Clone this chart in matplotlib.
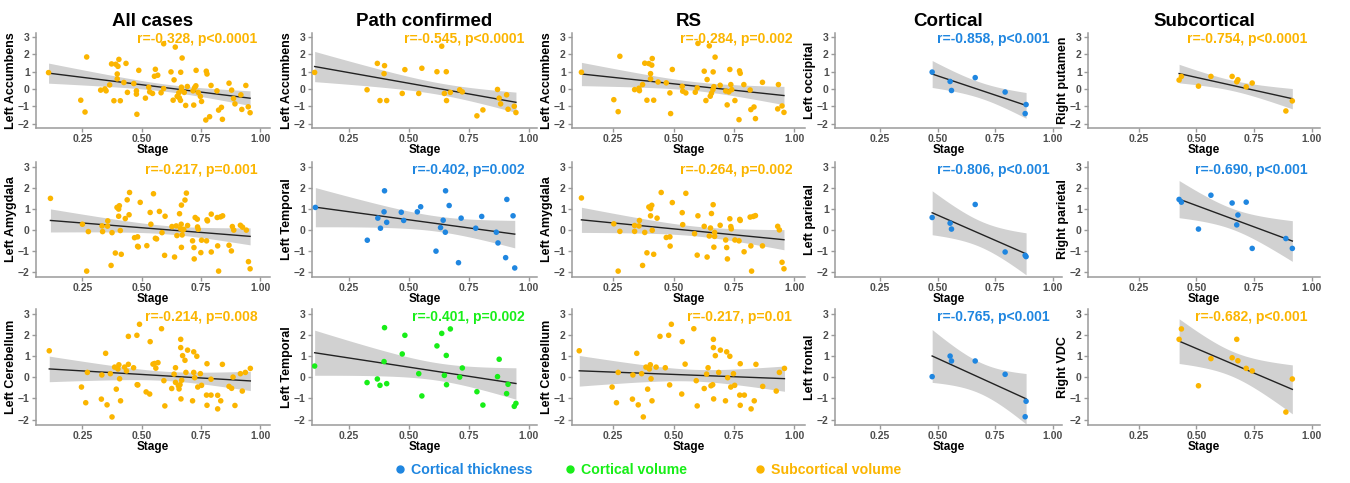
import numpy as np
import matplotlib
matplotlib.use("Agg")
import matplotlib.pyplot as plt
from matplotlib.lines import Line2D

plt.rcParams['font.family'] = ['Liberation Sans', 'DejaVu Sans']

BLUE = '#1f86e0'
GREEN = '#18ee18'
ORANGE = '#fbb500'

col_titles = ['All cases', 'Path confirmed', 'RS', 'Cortical', 'Subcortical']
legend_labels = ['Cortical thickness', 'Cortical volume', 'Subcortical volume']

# ---- data (stage, z-score) ----
x_all_acc = [0.107, 0.268, 0.243, 0.261, 0.327, 0.345, 0.35, 0.365, 0.373, 0.383, 0.391, 0.397, 0.397, 0.40,
             0.404, 0.41, 0.425, 0.434, 0.44, 0.467, 0.478, 0.478, 0.48, 0.488, 0.516, 0.53, 0.534, 0.546,
             0.554, 0.558, 0.568, 0.582, 0.593, 0.593, 0.624, 0.633, 0.637, 0.642, 0.65, 0.657, 0.659, 0.664,
             0.665, 0.668, 0.668, 0.671, 0.68, 0.686, 0.693, 0.717, 0.72, 0.724, 0.729, 0.73, 0.739, 0.748,
             0.753, 0.771, 0.773, 0.776, 0.787, 0.793, 0.818, 0.825, 0.837, 0.841, 0.869, 0.88, 0.888, 0.894,
             0.919, 0.923, 0.94, 0.95, 0.958]
y_all_acc = [0.94, 1.84, -0.65, -1.33, -0.07, 0.0, -0.11, 0.23, 1.44, -0.68, 1.42, 0.58, 0.86, 1.3,
             1.7, -0.68, 0.37, 1.47, -0.2, 0.31, -0.11, -0.3, -1.46, 1.07, -0.53, 0.1, -0.17, -0.26,
             0.73, 1.13, 0.79, -0.22, 2.6, 0.02, 0.98, -0.65, 0.52, 2.41, -0.43, -0.22, -0.51, -0.66,
             0.96, -0.05, 0.1, 1.78, -0.2, -0.95, 0.14, -0.11, -0.93, 0.08, 0.18, 1.07, -0.2, -0.43,
             -0.72, -1.79, 1.02, 0.86, -1.6, 0.2, -0.11, -1.22, -1.06, -1.75, 0.33, -0.07, -0.55, -0.86,
             -0.34, -1.18, 0.2, -1.03, -1.37]

x_all_amy = [0.115, 0.25, 0.268, 0.275, 0.333, 0.335, 0.356, 0.357, 0.375, 0.371, 0.389, 0.396, 0.403, 0.406,
             0.403, 0.41, 0.414, 0.431, 0.439, 0.447, 0.449, 0.47, 0.483, 0.483, 0.486, 0.494, 0.522, 0.536,
             0.539, 0.55, 0.558, 0.563, 0.575, 0.586, 0.597, 0.599, 0.628, 0.639, 0.646, 0.649, 0.66, 0.664,
             0.667, 0.668, 0.668, 0.671, 0.674, 0.678, 0.683, 0.689, 0.694, 0.715, 0.721, 0.722, 0.726, 0.735,
             0.739, 0.736, 0.75, 0.753, 0.774, 0.778, 0.776, 0.794, 0.794, 0.819, 0.821, 0.825, 0.833, 0.842,
             0.869, 0.879, 0.883, 0.889, 0.917, 0.926, 0.942, 0.951, 0.958]
y_all_amy = [1.49, 0.26, -1.97, -0.09, 0.18, -0.09, 0.17, 0.42, -0.14, -1.7, -1.11, 1.06, 0.98, 1.14,
             0.64, -0.04, -1.17, 0.53, 1.42, 0.71, 1.77, -0.38, -0.34, -0.79, -0.82, 1.3, -0.76, 0.82,
             0.26, 1.71, -0.41, -0.44, 0.87, -0.14, -1.22, 0.64, 0.15, -1.3, 0.18, -0.28, 0.76, 0.05,
             0.26, 1.17, -0.84, -0.25, -0.02, 0.02, 1.41, 1.74, 0.2, -0.53, -0.85, -1.39, 0.58, 0.5,
             0.02, 0.13, -1.09, -0.5, -0.53, 0.42, 0.47, 0.74, -1.06, 0.58, -0.77, -1.97, 0.61, 0.66,
             -0.74, -1.01, 0.15, -0.02, 0.21, 0.12, -0.02, -1.52, -1.86]

x_all_cer = [0.11, 0.246, 0.264, 0.271, 0.33, 0.332, 0.348, 0.354, 0.368, 0.375, 0.386, 0.393, 0.40, 0.404,
             0.407, 0.411, 0.428, 0.436, 0.444, 0.444, 0.466, 0.48, 0.481, 0.484, 0.491, 0.519, 0.534, 0.536,
             0.548, 0.555, 0.56, 0.569, 0.584, 0.594, 0.598, 0.627, 0.637, 0.643, 0.643, 0.655, 0.658, 0.662,
             0.665, 0.665, 0.666, 0.669, 0.673, 0.683, 0.687, 0.694, 0.715, 0.72, 0.72, 0.724, 0.733, 0.737,
             0.748, 0.753, 0.774, 0.776, 0.776, 0.793, 0.793, 0.821, 0.821, 0.834, 0.841, 0.869, 0.88, 0.886,
             0.894, 0.917, 0.925, 0.938, 0.959]
y_all_cer = [1.25, -0.46, -1.2, 0.23, -1.03, 0.11, 1.13, -1.3, 0.17, -1.87, 0.48, -0.56, 0.39, 0.59,
             -0.07, -1.11, 0.48, 0.3, 1.93, 0.61, 0.45, 1.98, -0.35, -0.36, 2.5, -0.69, -0.79, 1.68,
             0.62, 0.65, 0.43, 0.69, 2.29, -0.16, -1.35, -0.53, 0.15, 0.45, -0.24, -0.4, -0.55, -0.35,
             1.79, 1.4, -1.02, -0.14, 1.02, 0.8, 0.23, 1.28, -1.11, 1.2, 0.23, -0.02, 0.99, -0.46,
             0.17, -0.38, -0.84, 0.64, -1.32, -0.09, -0.84, -1.49, -0.85, -1.11, 0.61, -0.43, -0.52, 0.01,
             -1.33, 0.17, -0.65, 0.23, 0.42]

x_path_acc = [0.106, 0.325, 0.368, 0.379, 0.396, 0.398, 0.407, 0.472, 0.483, 0.541, 0.554, 0.617, 0.637, 0.648,
              0.656, 0.657, 0.673, 0.712, 0.723, 0.784, 0.809, 0.87, 0.877, 0.883, 0.908, 0.914, 0.94, 0.947]
y_path_acc = [0.95, -0.05, 1.47, -0.67, 0.88, 1.34, -0.67, -0.26, 1.11, -0.26, 1.19, 0.99, 2.46, -0.26,
              0.99, -0.67, -0.2, -0.05, -0.17, -1.55, -1.21, -0.03, -0.53, -0.86, -0.34, -1.17, -1.0, -1.36]

x_path_tmp = [0.109, 0.326, 0.37, 0.381, 0.396, 0.398, 0.407, 0.468, 0.478, 0.535, 0.549, 0.613, 0.632, 0.643,
              0.652, 0.653, 0.668, 0.707, 0.718, 0.779, 0.804, 0.865, 0.872, 0.904, 0.909, 0.935, 0.942]
y_path_tmp = [1.06, -0.5, 0.55, 0.07, 0.85, 1.85, 0.35, 0.83, 0.44, 0.85, 1.09, -1.02, 0.1, 0.45,
              -0.12, 1.85, 1.15, -1.57, 0.55, 0.07, 0.63, -0.12, -0.63, -1.33, 1.44, 0.66, -1.82]

x_path_vol = [0.106, 0.325, 0.368, 0.379, 0.396, 0.398, 0.407, 0.472, 0.483, 0.541, 0.554, 0.617, 0.637,
              0.648, 0.656, 0.657, 0.673, 0.712, 0.723, 0.784, 0.809, 0.87, 0.877, 0.908, 0.914, 0.94, 0.947]
y_path_vol = [0.53, -0.25, -0.08, -0.38, 0.74, 2.34, -0.3, 1.1, 1.98, 0.17, -0.88, 1.48, 2.07,
              0.09, 1.03, -0.35, 2.28, 0.01, 0.44, -0.68, -1.31, 0.03, 0.85, -0.77, -0.33, -1.37, -1.23]

x_rs_acc = [0.119, 0.253, 0.271, 0.278, 0.339, 0.357, 0.359, 0.372, 0.381, 0.39, 0.398, 0.405, 0.405, 0.41,
            0.412, 0.418, 0.436, 0.47, 0.485, 0.488, 0.495, 0.536, 0.538, 0.551, 0.59, 0.598, 0.601, 0.627,
            0.634, 0.639, 0.648, 0.652, 0.657, 0.663, 0.664, 0.667, 0.672, 0.693, 0.716, 0.722, 0.729, 0.733,
            0.737, 0.741, 0.754, 0.771, 0.773, 0.776, 0.791, 0.817, 0.82, 0.833, 0.839, 0.868, 0.931, 0.934,
            0.949, 0.957]
y_rs_acc = [0.96, -0.62, -1.31, 1.88, -0.04, 0.04, -0.1, 0.25, 1.48, -0.65, 1.46, 0.88, 0.58, 1.37,
            1.75, -0.65, 0.4, 0.35, -0.23, -1.42, 1.12, 0.15, -0.13, -0.23, -0.19, 0.06, 2.62, 1.02,
            -0.67, 0.54, 2.48, -0.42, -0.25, -0.04, 0.98, 0.13, 1.83, 0.21, -0.12, -0.92, -0.17, 1.12,
            0.25, -0.04, -0.67, -1.77, 1.04, 0.9, 0.25, -0.06, -1.19, -1.04, -1.71, 0.38, -1.15, 0.25,
            -0.98, -1.35]

x_rs_amy = [0.119, 0.253, 0.271, 0.278, 0.339, 0.339, 0.357, 0.359, 0.381, 0.372, 0.39, 0.398, 0.405, 0.41,
            0.405, 0.412, 0.418, 0.432, 0.449, 0.47, 0.485, 0.486, 0.495, 0.536, 0.538, 0.551, 0.587, 0.598,
            0.601, 0.627, 0.639, 0.648, 0.653, 0.657, 0.664, 0.667, 0.67, 0.67, 0.693, 0.716, 0.72, 0.723,
            0.733, 0.737, 0.739, 0.754, 0.771, 0.776, 0.774, 0.792, 0.817, 0.82, 0.823, 0.83, 0.839, 0.868,
            0.931, 0.938, 0.949, 0.957]
y_rs_amy = [1.51, 0.28, -1.97, -0.08, 0.2, -0.08, 0.18, 0.44, -0.13, -1.7, -1.1, 1.08, 1.0, 1.16,
            0.66, -0.03, -1.17, 0.55, 1.77, -0.37, -0.34, -0.78, 1.29, 0.81, 0.24, 1.73, -0.19, -1.21,
            0.66, 0.16, -1.3, -0.3, 0.08, 0.77, 1.19, -0.83, -0.13, -0.32, 0.21, -0.49, -0.85, -1.39,
            0.52, 0.15, 0.04, -0.49, -0.53, 0.44, 0.49, -1.05, 0.6, -0.77, -1.97, 0.63, 0.67, -0.77,
            0.16, -0.01, -1.55, -1.86]

x_rs_cer = [0.11, 0.246, 0.264, 0.271, 0.33, 0.332, 0.348, 0.354, 0.368, 0.375, 0.386, 0.393, 0.40, 0.404,
            0.407, 0.411, 0.428, 0.444, 0.466, 0.48, 0.484, 0.491, 0.534, 0.536, 0.548, 0.584, 0.594, 0.598,
            0.627, 0.637, 0.643, 0.655, 0.662, 0.665, 0.665, 0.666, 0.673, 0.687, 0.694, 0.715, 0.72, 0.724,
            0.733, 0.737, 0.748, 0.753, 0.774, 0.776, 0.776, 0.793, 0.821, 0.834, 0.841, 0.869, 0.925, 0.938,
            0.959]
y_rs_cer = [1.25, -0.46, -1.2, 0.23, -1.03, 0.11, 1.13, -1.3, 0.17, -1.87, 0.48, -0.56, 0.39, 0.59,
            -0.07, -1.11, 0.48, 1.93, 0.45, 1.98, -0.36, 2.5, -0.79, 1.68, 0.62, 2.29, -0.16, -1.35,
            -0.53, 0.15, 0.45, -0.4, -0.35, 1.79, 1.4, -1.02, 1.02, 0.23, 1.28, -1.11, 1.2, -0.02,
            0.99, -0.46, 0.17, -0.38, -0.84, 0.64, -1.32, -0.84, -1.49, -1.11, 0.61, -0.43, -0.65, 0.23,
            0.42]

x_cort = [0.476, 0.554, 0.56, 0.663, 0.793, 0.88, 0.884]
y_occipital = [0.97, 0.43, -0.09, 0.65, -0.18, -1.42, -0.9]
y_lparietal = [0.58, 0.31, 0.03, 1.2, -1.06, -1.22, -1.28]
y_frontal = [0.03, 1.0, 0.77, 0.77, 0.14, -1.86, -1.13]

x_sub = [0.425, 0.435, 0.509, 0.563, 0.655, 0.675, 0.68, 0.716, 0.742, 0.888, 0.916]
y_putamen = [0.51, 0.72, 0.16, 0.72, 0.72, 0.41, 0.53, 0.12, 0.34, -1.27, -0.69]
y_rparietal = [1.44, 1.31, 0.03, 1.64, 1.27, 0.23, 0.70, 1.31, -0.89, -0.42, -0.89]
y_vdc = [1.79, 2.28, -0.40, 0.88, 0.92, 1.79, 0.78, 0.42, 0.3, -1.64, -0.08]

# (row, col): x, y, y label, colour, annotation
panels = {
    (0, 0): (x_all_acc, y_all_acc, 'Left Accumbens', ORANGE, 'r=-0.328, p<0.0001'),
    (0, 1): (x_path_acc, y_path_acc, 'Left Accumbens', ORANGE, 'r=-0.545, p<0.0001'),
    (0, 2): (x_rs_acc, y_rs_acc, 'Left Accumbens', ORANGE, 'r=-0.284, p=0.002'),
    (0, 3): (x_cort, y_occipital, 'Left occipital', BLUE, 'r=-0.858, p<0.001'),
    (0, 4): (x_sub, y_putamen, 'Right putamen', ORANGE, 'r=-0.754, p<0.0001'),
    (1, 0): (x_all_amy, y_all_amy, 'Left Amygdala', ORANGE, 'r=-0.217, p=0.001'),
    (1, 1): (x_path_tmp, y_path_tmp, 'Left Temporal', BLUE, 'r=-0.402, p=0.002'),
    (1, 2): (x_rs_amy, y_rs_amy, 'Left Amygdala', ORANGE, 'r=-0.264, p=0.002'),
    (1, 3): (x_cort, y_lparietal, 'Left parietal', BLUE, 'r=-0.806, p<0.001'),
    (1, 4): (x_sub, y_rparietal, 'Right parietal', BLUE, 'r=-0.690, p<0.001'),
    (2, 0): (x_all_cer, y_all_cer, 'Left Cerebellum', ORANGE, 'r=-0.214, p=0.008'),
    (2, 1): (x_path_vol, y_path_vol, 'Left Temporal', GREEN, 'r=-0.401, p=0.002'),
    (2, 2): (x_rs_cer, y_rs_cer, 'Left Cerebellum', ORANGE, 'r=-0.217, p=0.01'),
    (2, 3): (x_cort, y_frontal, 'Left frontal', BLUE, 'r=-0.765, p<0.001'),
    (2, 4): (x_sub, y_vdc, 'Right VDC', ORANGE, 'r=-0.682, p<0.001'),
}


def t_crit(df):
    # Cornish-Fisher approximation of the 97.5% t quantile
    z = 1.959964
    return (z + (z**3 + z) / (4 * df) + (5 * z**5 + 16 * z**3 + 3 * z) / (96 * df**2)
            + (3 * z**7 + 19 * z**5 + 17 * z**3 - 15 * z) / (384 * df**3))


def smooth(ax, x, y):
    x = np.asarray(x)
    y = np.asarray(y)
    n = len(x)
    b, a = np.polyfit(x, y, 1)
    resid = y - (a + b * x)
    s = np.sqrt(np.sum(resid**2) / (n - 2))
    xm = x.mean()
    sxx = np.sum((x - xm)**2)
    xs = np.linspace(x.min(), x.max(), 80)
    fit = a + b * xs
    se = s * np.sqrt(1.0 / n + (xs - xm)**2 / sxx)
    tc = t_crit(n - 2)
    ax.fill_between(xs, fit - tc * se, fit + tc * se, color='#999999', alpha=0.45, lw=0, zorder=1)
    ax.plot(xs, fit, color='#222222', lw=1.0, zorder=3)


W, H = 1350, 483
fig = plt.figure(figsize=(W / 100, H / 100), dpi=100)

cols_px = [(36, 270), (312, 537), (572, 805), (835, 1062), (1088, 1320)]
rows_px = [(33, 128), (162, 277), (309, 425)]
col_xlim = [(0.054, 1.042), (0.095, 1.035), (0.08, 1.044), (0.054, 1.04), (0.03, 1.036)]

for (r, c), (x, y, ylab, colr, note) in panels.items():
    l, rgt = cols_px[c]
    t, btm = rows_px[r]
    ax = fig.add_axes([l / W, 1 - btm / H, (rgt - l) / W, (btm - t) / H])
    smooth(ax, x, y)
    ax.scatter(x, y, s=16, color=colr, edgecolors='none', zorder=4)
    ax.set_xlim(*col_xlim[c])
    ax.set_ylim(-2.25, 3.22)
    ax.set_xticks([0.25, 0.5, 0.75, 1.0])
    ax.set_xticklabels(['0.25', '0.50', '0.75', '1.00'])
    ax.set_yticks([-2, -1, 0, 1, 2, 3])
    for side in ['top', 'right']:
        ax.spines[side].set_visible(False)
    for side in ['left', 'bottom']:
        ax.spines[side].set_color('#9a9a9a')
        ax.spines[side].set_linewidth(1.1)
    ax.tick_params(colors='#9a9a9a', length=3, width=1, labelsize=7.5, pad=1.5, labelcolor='#4d4d4d')
    for lab in ax.get_xticklabels() + ax.get_yticklabels():
        lab.set_fontweight('bold')
    ax.set_xlabel('Stage', fontsize=8.5, fontweight='bold', labelpad=0)
    ax.set_ylabel(ylab, fontsize=9, fontweight='bold', labelpad=1)
    ax.text(0.945, 2.85, note, transform=ax.get_yaxis_transform(), ha='right', va='center',
            color=colr, fontsize=10, fontweight='bold')
    if r == 0:
        ax.set_title(col_titles[c], fontsize=13.5, fontweight='bold', pad=5)

# legend row at the bottom
leg_dot_px = [400, 570, 760]
for lab, cc, px in zip(legend_labels, [BLUE, GREEN, ORANGE], leg_dot_px):
    fig.add_artist(Line2D([px / W], [1 - 469 / H], transform=fig.transFigure, marker='o',
                          ls='none', color=cc, markersize=5))
    fig.text((px + 11) / W, 1 - 470 / H, lab, color=cc, ha='left', va='center',
             family=['Liberation Sans Narrow', 'Liberation Sans'], fontweight='bold', fontsize=10.2)

fig.savefig('out.png', dpi=100)
